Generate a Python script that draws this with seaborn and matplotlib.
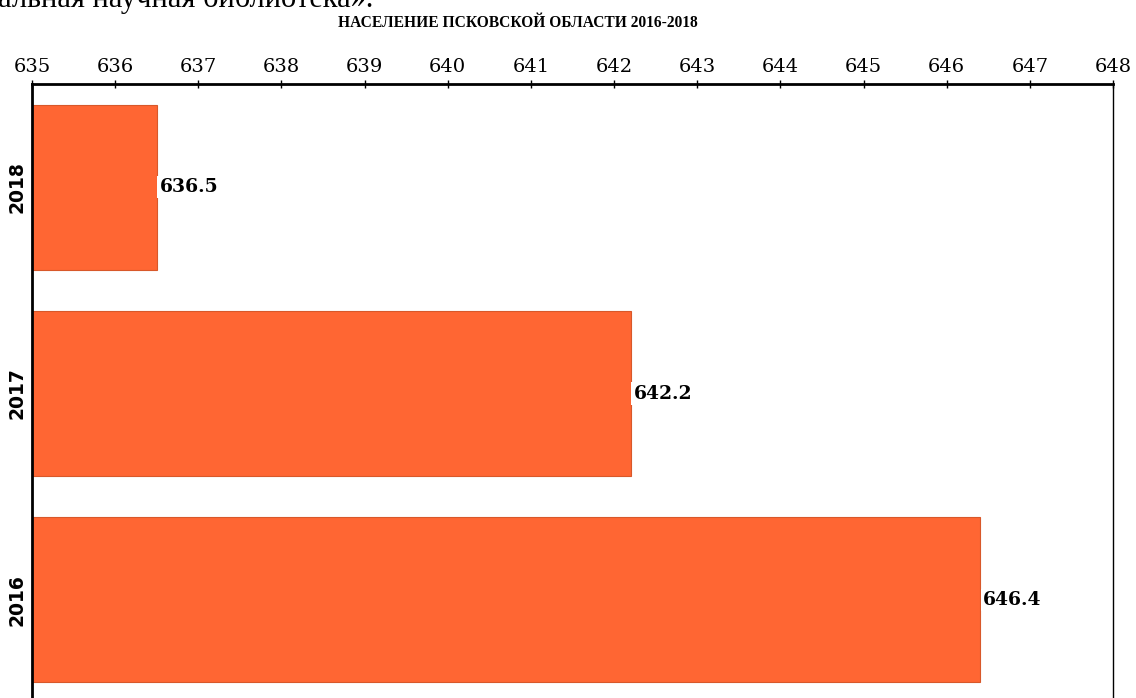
"""Население Псковской области 2016-2018, горизонтальные столбцы."""

import matplotlib.pyplot as plt
import pandas as pd
import seaborn as sns

# данные
years = ["2018", "2017", "2016"]
population = [636.5, 642.2, 646.4]
x_ticks = list(range(635, 649))

title = "НАСЕЛЕНИЕ ПСКОВСКОЙ ОБЛАСТИ 2016-2018"
cut_text = "альная научная библиотека»."

df = pd.DataFrame({"year": years, "value": population})

sns.set_style("white")
plt.rcParams["font.family"] = ["DejaVu Serif", "DejaVu Sans"]
plt.rcParams["text.color"] = "black"

fig = plt.figure(figsize=(11.36, 6.98), dpi=100)
# оси: слева 32px, справа 1113px, верх 84px, низ чуть ниже края картинки
ax = fig.add_axes([32 / 1136, -5 / 698, (1113 - 32) / 1136, (698 - 84 + 5) / 698])

sns.barplot(
    data=df,
    x="value",
    y="year",
    order=years,
    orient="h",
    color="#FF6633",
    saturation=1,
    width=0.8,
    edgecolor="#D8582A",
    linewidth=0.8,
    ax=ax,
)

ax.set_xlim(635, 648)
ax.set_ylim(2.5, -0.5)
ax.set_xlabel("")
ax.set_ylabel("")

# ось X сверху
ax.xaxis.tick_top()
ax.set_xticks(x_ticks)
ax.set_xticklabels([str(t) for t in x_ticks], fontsize=14)
ax.tick_params(axis="x", direction="inout", length=6, width=1, pad=3,
               colors="black", labelcolor="black")

# подписи годов по центру столбцов, засечки между ними
ax.set_yticks(range(len(years)))
ax.set_yticklabels(years, rotation=90, va="center", fontsize=13.5,
                   fontweight="bold", family="DejaVu Sans", color="black")
ax.tick_params(axis="y", which="major", length=0, pad=4)
ax.set_yticks([0.5, 1.5], minor=True)
ax.tick_params(axis="y", which="minor", length=6, width=1, direction="out",
               colors="black")

for side in ["top", "left"]:
    ax.spines[side].set_linewidth(2)
    ax.spines[side].set_color("black")
for side in ["right", "bottom"]:
    ax.spines[side].set_linewidth(1)
    ax.spines[side].set_color("black")
    ax.spines[side].set_visible(True)

# подписи значений
ax.bar_label(
    ax.containers[0],
    fmt="%.1f",
    padding=2,
    fontsize=13.5,
    fontweight="bold",
    color="black",
    bbox=dict(facecolor="white", edgecolor="none", pad=1.5),
)

fig.text(518 / 1136, 1 - 23 / 698, title, ha="center", va="center",
         fontsize=11.2, fontweight="bold", family="Liberation Serif")
fig.text(-0.002, 1 - 7 / 698, cut_text, ha="left", va="baseline",
         fontsize=22, family="Liberation Serif")

fig.savefig("out.png", dpi=100)
